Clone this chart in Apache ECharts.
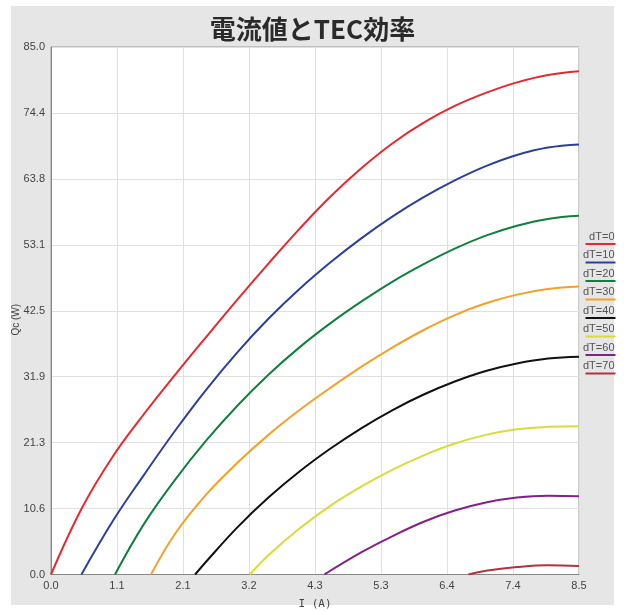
<!DOCTYPE html>
<html>
<head>
<meta charset="utf-8">
<script src="https://cdn.jsdelivr.net/npm/echarts@6/dist/echarts.min.js"></script>
<style>
  html, body { margin: 0; padding: 0; background: #ffffff; }
  #chart { width: 625px; height: 611px; }
</style>
</head>
<body>
<div id="chart"></div>
<script>
// ---- data ----
const titleText = '電流値とTEC効率';
const xAxisName = 'I (A)';
const yAxisName = 'Qc (W)';
const xTickLabels = ['0.0', '1.1', '2.1', '3.2', '4.3', '5.3', '6.4', '7.4', '8.5'];
const yTickLabels = ['0.0', '10.6', '21.3', '31.9', '42.5', '53.1', '63.8', '74.4', '85.0'];
const xMax = 8.5;
const yMax = 85;

const seriesNames = ['dT=0', 'dT=10', 'dT=20', 'dT=30', 'dT=40', 'dT=50', 'dT=60', 'dT=70'];
const seriesColors = ['#e5292e', '#2c3f9b', '#10803d', '#f6a027', '#111111', '#d7dc3a', '#802384', '#b3323f'];

// [current I (A), Qc (W)]
const dT0  = [[0, 0], [0.5, 10.75], [1.0, 19.1], [1.5, 25.9], [2.0, 32.2], [2.5, 38.3], [3.0, 44.3], [3.5, 50.1], [4.0, 55.7], [4.5, 60.9], [5.0, 65.5], [5.5, 69.5], [6.0, 72.8], [6.5, 75.5], [7.0, 77.6], [7.5, 79.3], [8.0, 80.5], [8.5, 81.1]];
const dT10 = [[0.49, 0], [1.0, 8.7], [1.5, 16.1], [2.0, 23.2], [2.5, 29.8], [3.0, 35.8], [3.5, 41.2], [4.0, 46.0], [4.5, 50.3], [5.0, 54.2], [5.5, 57.7], [6.0, 60.8], [6.5, 63.5], [7.0, 65.8], [7.5, 67.6], [8.0, 68.8], [8.5, 69.3]];
const dT20 = [[1.03, 0], [1.5, 8.2], [2.0, 15.3], [2.5, 21.6], [3.0, 27.2], [3.5, 32.2], [4.0, 36.6], [4.5, 40.5], [5.0, 44.0], [5.5, 47.2], [6.0, 50.0], [6.5, 52.5], [7.0, 54.6], [7.5, 56.2], [8.0, 57.3], [8.5, 57.8]];
const dT30 = [[1.61, 0], [2.0, 6.6], [2.5, 12.9], [3.0, 18.0], [3.5, 22.5], [4.0, 26.5], [4.5, 30.1], [5.0, 33.5], [5.5, 36.6], [6.0, 39.4], [6.5, 41.8], [7.0, 43.7], [7.5, 45.1], [8.0, 46.0], [8.5, 46.4]];
const dT40 = [[2.32, 0], [2.5, 2.1], [3.0, 7.6], [3.5, 12.4], [4.0, 16.6], [4.5, 20.3], [5.0, 23.6], [5.5, 26.5], [6.0, 29.0], [6.5, 31.1], [7.0, 32.8], [7.5, 34.0], [8.0, 34.8], [8.5, 35.1]];
const dT50 = [[3.2, 0], [3.5, 3.1], [4.0, 7.4], [4.5, 11.1], [5.0, 14.2], [5.5, 16.9], [6.0, 19.2], [6.5, 21.1], [7.0, 22.5], [7.5, 23.4], [8.0, 23.8], [8.5, 23.9]];
const dT60 = [[4.4, 0], [5.0, 3.6], [5.5, 6.2], [6.0, 8.5], [6.5, 10.3], [7.0, 11.6], [7.5, 12.4], [8.0, 12.7], [8.5, 12.6]];
const dT70 = [[6.72, 0], [7.0, 0.6], [7.5, 1.2], [8.0, 1.5], [8.5, 1.35]];
const seriesData = [dT0, dT10, dT20, dT30, dT40, dT50, dT60, dT70];

// ---- chart ----
const xInterval = xMax / (xTickLabels.length - 1);
const yInterval = yMax / (yTickLabels.length - 1);
const chart = echarts.init(document.getElementById('chart'), null, { renderer: 'canvas' });

const legendGraphics = seriesNames.map((name, i) => ({
  type: 'group',
  left: 583,
  top: 231 + i * 18.5,
  children: [
    { type: 'text', x: 29, y: 0, style: { text: name, fill: '#555', font: '11px "Liberation Sans", Arial, sans-serif', textAlign: 'right' } },
    { type: 'line', shape: { x1: 0, y1: 13, x2: 30, y2: 13 }, style: { stroke: seriesColors[i], lineWidth: 2 } }
  ]
}));

chart.setOption({
  animation: false,
  backgroundColor: '#ffffff',
  title: {
    text: titleText,
    left: 'center',
    top: 11,
    textStyle: { fontFamily: '"Noto Sans CJK JP", sans-serif', fontSize: 26, fontWeight: 'bold', color: '#2a2a2a' }
  },
  graphic: [
    { type: 'rect', left: 11, top: 6, shape: { width: 603, height: 599 }, style: { fill: '#e6e6e6' }, z: -10, silent: true }
  ].concat(legendGraphics),
  grid: {
    left: 51, top: 47, width: 528, height: 527.5,
    outerBoundsMode: 'none',
    containLabel: false,
    show: true, backgroundColor: '#ffffff', borderColor: '#999999', borderWidth: 1
  },
  xAxis: {
    type: 'value', min: 0, max: xMax, interval: xInterval,
    name: xAxisName, nameLocation: 'middle', nameGap: 24, nameMoveOverlap: false,
    nameTextStyle: { fontFamily: '"DejaVu Sans Mono", monospace', fontSize: 11, color: '#444' },
    axisLine: { lineStyle: { color: '#888' } },
    axisTick: { show: false },
    axisLabel: {
      margin: 6, fontFamily: '"Liberation Sans", Arial, sans-serif', fontSize: 11, color: '#444',
      formatter: v => xTickLabels[Math.round(v / xInterval)]
    },
    splitLine: { show: true, lineStyle: { color: '#e0e0e0' } }
  },
  yAxis: {
    type: 'value', min: 0, max: yMax, interval: yInterval,
    name: yAxisName, nameLocation: 'middle', nameGap: 30, nameRotate: 90, nameMoveOverlap: false,
    nameTextStyle: { fontFamily: '"Liberation Sans", Arial, sans-serif', fontSize: 10, color: '#444', padding: [0, 18, 0, 0] },
    axisLine: { show: true, lineStyle: { color: '#888' } },
    axisTick: { show: false },
    axisLabel: {
      margin: 6, fontFamily: '"Liberation Sans", Arial, sans-serif', fontSize: 11, color: '#444',
      formatter: v => yTickLabels[Math.round(v / yInterval)]
    },
    splitLine: { show: true, lineStyle: { color: '#e0e0e0' } }
  },
  series: seriesNames.map((name, i) => ({
    name: name,
    type: 'line',
    data: seriesData[i],
    smooth: 0.4,
    showSymbol: false,
    clip: true,
    lineStyle: { color: seriesColors[i], width: 2 },
    itemStyle: { color: seriesColors[i] }
  }))
});
</script>
</body>
</html>
